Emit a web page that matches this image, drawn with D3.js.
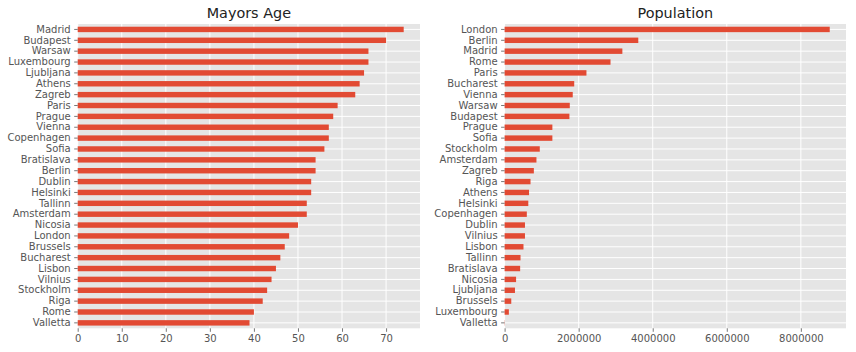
<!DOCTYPE html>
<html>
<head>
<meta charset="utf-8">
<script src="https://cdn.jsdelivr.net/npm/d3@7"></script>
<style>
  body { margin: 0; background: #fff; }
  text { font-family: "DejaVu Sans", sans-serif; }
</style>
</head>
<body>
<div id="chart-area"></div>
<script>
// Mayors age, top to bottom
const ageCities = ["Madrid", "Budapest", "Warsaw", "Luxembourg", "Ljubljana", "Athens", "Zagreb",
  "Paris", "Prague", "Vienna", "Copenhagen", "Sofia", "Bratislava", "Berlin", "Dublin", "Helsinki",
  "Tallinn", "Amsterdam", "Nicosia", "London", "Brussels", "Bucharest", "Lisbon", "Vilnius",
  "Stockholm", "Riga", "Rome", "Valletta"];
const ageValues = [74, 70, 66, 66, 65, 64, 63, 59, 58, 57, 57, 56, 54, 54, 53, 53, 52, 52, 50, 48,
  47, 46, 45, 44, 43, 42, 40, 39];
const ageTicks = [0, 10, 20, 30, 40, 50, 60, 70];

// Population, top to bottom
const popCities = ["London", "Berlin", "Madrid", "Rome", "Paris", "Bucharest", "Vienna", "Warsaw",
  "Budapest", "Prague", "Sofia", "Stockholm", "Amsterdam", "Zagreb", "Riga", "Athens", "Helsinki",
  "Copenhagen", "Dublin", "Vilnius", "Lisbon", "Tallinn", "Bratislava", "Nicosia", "Ljubljana",
  "Brussels", "Luxembourg", "Valletta"];
const popValues = [8780000, 3610000, 3180000, 2860000, 2210000, 1880000, 1840000, 1760000,
  1750000, 1290000, 1290000, 950000, 860000, 790000, 700000, 660000, 640000, 600000, 550000,
  550000, 510000, 430000, 420000, 310000, 280000, 180000, 115000, 6000];
const popTicks = [0, 2000000, 4000000, 6000000, 8000000];

const W = 856, H = 352;
const plotTop = 24, plotBottom = 328.3;

const svg = d3.select("#chart-area")
  .append("svg")
    .attr("width", W)
    .attr("height", H);

function panel(cfg) {
  const { left, right, cities, values, ticks, title, fmt } = cfg;
  const g = svg.append("g");

  const x = d3.scaleLinear()
    .domain([0, d3.max(values) * 1.05])
    .range([left, right]);

  const y = d3.scaleBand()
    .domain(cities)
    .range([plotTop, plotBottom])
    .paddingInner(0.5)
    .paddingOuter(0.25);

  g.append("rect")
    .attr("x", left)
    .attr("y", plotTop)
    .attr("width", right - left)
    .attr("height", plotBottom - plotTop)
    .attr("fill", "#E5E5E5");

  // grid
  g.selectAll(".vgrid")
    .data(ticks)
    .enter()
    .append("line")
      .attr("x1", d => x(d))
      .attr("x2", d => x(d))
      .attr("y1", plotTop)
      .attr("y2", plotBottom)
      .attr("stroke", "#fff")
      .attr("stroke-width", 1);

  g.selectAll(".hgrid")
    .data(cities)
    .enter()
    .append("line")
      .attr("x1", left)
      .attr("x2", right)
      .attr("y1", d => y(d) + y.bandwidth() / 2)
      .attr("y2", d => y(d) + y.bandwidth() / 2)
      .attr("stroke", "#fff")
      .attr("stroke-width", 1);

  g.selectAll(".bar")
    .data(cities)
    .enter()
    .append("rect")
      .attr("x", x(0))
      .attr("y", d => y(d))
      .attr("width", (d, i) => x(values[i]) - x(0))
      .attr("height", y.bandwidth())
      .attr("fill", "#E24A33");

  const xAxis = d3.axisBottom(x)
    .tickValues(ticks)
    .tickFormat(fmt)
    .tickSizeInner(3.5)
    .tickSizeOuter(0)
    .tickPadding(3.5);

  const yAxis = d3.axisLeft(y)
    .tickSizeInner(3.5)
    .tickSizeOuter(0)
    .tickPadding(3.5);

  const xa = g.append("g")
    .attr("transform", `translate(0, ${plotBottom})`)
    .call(xAxis);

  const ya = g.append("g")
    .attr("transform", `translate(${left}, 0)`)
    .call(yAxis);

  [xa, ya].forEach(a => {
    a.select(".domain").remove();
    a.selectAll("line").attr("stroke", "#555").attr("stroke-width", 0.8);
    a.selectAll("text")
      .attr("fill", "#555")
      .attr("font-size", "10px")
      .style("font-family", "DejaVu Sans, sans-serif");
  });

  g.append("text")
    .attr("x", (left + right) / 2)
    .attr("y", 18)
    .attr("text-anchor", "middle")
    .attr("font-size", "14.4px")
    .attr("fill", "#222")
    .text(title);
}

panel({
  left: 77.7, right: 420,
  cities: ageCities, values: ageValues, ticks: ageTicks,
  title: "Mayors Age", fmt: d3.format("d")
});

panel({
  left: 504.6, right: 846,
  cities: popCities, values: popValues, ticks: popTicks,
  title: "Population", fmt: d3.format("d")
});
</script>
</body>
</html>
